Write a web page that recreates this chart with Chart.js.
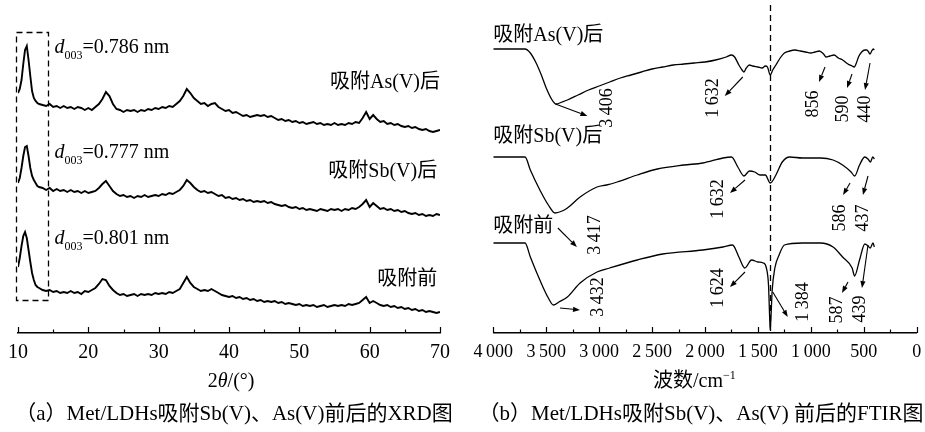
<!DOCTYPE html>
<html>
<head>
<meta charset="utf-8">
<script src="https://cdn.jsdelivr.net/npm/chart.js@4.4.1/dist/chart.umd.min.js"></script>
<style>
  html, body { margin: 0; padding: 0; background: #fff; }
  #wrap { position: relative; width: 925px; height: 432px; overflow: hidden; }
  #xrdBox { position: absolute; left: 0; top: 0; width: 462px; height: 432px; }
  #ftirBox { position: absolute; left: 470px; top: 0; width: 455px; height: 432px; }
  .cap { position: absolute; top: 396px; line-height: 24px; white-space: nowrap;
         font: 21px "Liberation Serif", "Noto Sans CJK SC", serif; color: #000;
         transform: translateX(-50%); }
</style>
</head>
<body>
<div id="wrap">
  <div id="xrdBox"><canvas id="xrd" width="462" height="432"></canvas></div>
  <div id="ftirBox"><canvas id="ftir" width="455" height="432"></canvas></div>
  <div class="cap" style="left:234px">（a）Met/LDHs吸附Sb(V)、As(V)前后的XRD图</div>
  <div class="cap" style="left:701px">（b）Met/LDHs吸附Sb(V)、As(V) 前后的FTIR图</div>
</div>
<script>
// ---------- XRD patterns (2θ in degrees, stacked intensity in a.u.) ----------
const xrdAngle = [10,10.25,10.5,10.75,11,11.25,11.5,11.75,12,12.25,12.5,12.75,13,
  13.5,14,14.5,15,15.5,16,16.5,17,17.5,18,18.5,19,19.5,20,20.5,21,
  21.5,22,22.5,23,23.5,24,24.5,25,25.5,26,26.5,27,27.5,28,28.5,29,29.5,30,
  30.5,31,31.5,32,32.5,33,33.5,34,34.5,35,35.5,36,36.5,37,37.5,38,38.5,39,39.5,40,
  40.5,41,41.5,42,42.5,43,43.5,44,44.5,45,45.5,46,46.5,47,47.5,48,48.5,49,49.5,50,
  50.5,51,51.5,52,52.5,53,53.5,54,54.5,55,55.5,56,56.5,57,57.5,58,58.5,59,59.5,60,
  60.5,61,61.5,62,62.5,63,63.5,64,64.5,65,65.5,66,66.5,67,67.5,68,68.5,69,69.5,70];

const xrdAsV = [240,244,253,269,283,287,273,257,242,235,232,230,229,
  228,227,229,226,227,225,227,225,226,224,226,225,223,225,223,226,
  229,234,241,237,229,224,223,221,223,222,223,221,223,222,224,223,225,224,
  226,225,227,226,229,232,237,244,240,235,232,229,230,227,229,230,226,224,222,223,
  220,221,219,217,218,216,217,218,217,218,216,217,215,213,214,212,213,211,212,210,
  211,209,210,211,209,210,208,209,208,210,208,209,208,210,209,211,210,215,221,214,
  218,214,211,212,209,210,208,209,207,206,207,205,206,204,203,204,202,201,202,203];

const xrdSbV = [150,155,165,177,186,187,177,165,157,153,150,147,146,
  145,143,145,142,144,142,143,141,143,141,142,140,142,140,141,142,
  145,149,152,147,142,139,137,138,136,137,135,137,136,138,136,137,138,137,
  139,138,140,139,141,143,147,153,150,146,143,141,142,140,141,139,137,138,135,136,
  134,135,133,134,132,133,131,132,131,132,130,131,129,128,127,128,126,125,126,124,
  125,123,124,123,122,124,123,122,124,123,124,122,124,123,125,124,126,129,133,126,
  130,127,124,125,123,124,122,123,121,122,120,119,120,118,119,117,118,117,119,118];

const xrdPristine = [66,75,87,97,101,95,83,71,60,53,48,46,45,
  43,42,43,41,42,40,41,40,42,40,41,39,42,41,43,45,
  49,54,53,47,43,40,38,39,37,38,39,37,39,38,39,38,40,39,
  40,39,41,40,42,44,50,56,50,46,44,42,43,42,44,42,40,38,37,36,
  37,35,36,34,35,33,34,32,33,31,32,31,32,30,31,29,30,29,28,29,
  27,28,27,28,26,27,28,26,27,28,27,28,27,29,28,29,30,33,36,30,
  32,30,28,27,28,26,27,25,26,24,25,23,24,22,23,21,22,21,20,21];

const xrdNames = ['吸附As(V)后', '吸附Sb(V)后', '吸附前'];
const xrdD003 = ['0.786', '0.777', '0.801'];
const xrdTicks = [10, 20, 30, 40, 50, 60, 70];

// ---------- FTIR spectra (wavenumber in cm⁻¹, stacked transmittance in a.u.) ----------
const ftirWaveAsV = [4000,3900,3800,3700,3650,3600,3550,3500,3450,3406,3350,3300,3200,3100,3000,2950,2900,2800,2700,2600,
  2500,2400,2300,2200,2100,2000,1900,1800,1750,1720,1680,1650,1632,1610,1580,1550,1500,1460,1430,1410,
  1384,1360,1330,1290,1250,1200,1150,1100,1050,1000,960,920,880,856,820,780,740,700,650,610,
  590,570,550,520,490,470,455,440,425,410,400];
const ftirAsV = [284,284,284,284,280,271,259,245,234,229,231,233,238,243,247,249,251,255,258,261,
  264,266,268,269,270,271,273,276,278,276,268,263,261,265,268,267,266,265,267,266,
  258,263,268,275,280,282,283,282,281,280,281,282,279,276,277,278,275,273,269,267,
  266,270,276,281,283,283,281,279,282,284,283];

const ftirWaveSbV = [4000,3800,3700,3650,3560,3480,3417,3350,3300,3180,3020,2930,2830,2640,2450,2200,2020,1830,1750,1690,
  1632,1580,1530,1480,1430,1384,1330,1270,1200,1080,910,790,700,620,586,540,490,460,437,415,400];
const ftirSbV = [176,176,176,163,143,128,120,122,125,136,146,148,151,158,164,168,170,175,176,166,
  157,162,161,158,158,150,158,171,176,175,175,173,168,161,157,168,176,174,171,176,174];

const ftirWavePristine = [4000,3800,3700,3650,3560,3480,3432,3380,3300,3180,3020,2900,2640,2400,2020,1830,1740,1680,1624,1560,
  1500,1450,1420,1400,1390,1384,1378,1365,1340,1300,1250,1080,910,790,700,610,587,540,490,460,439,413,400];
const ftirPristine = [90,90,90,76,53,35,28,31,36,50,61,65,73,79,83,86,88,76,65,73,
  71,70,65,48,18,3,13,43,65,78,88,90,90,86,76,65,57,73,89,87,85,90,86];

// band positions marked on each spectrum
const ftirPeaksAsV = [3406, 1632, 856, 590, 440];
const ftirPeaksSbV = [3417, 1632, 586, 437];
const ftirPeaksPristine = [3432, 1624, 1384, 587, 439];
const ftirTicks = [0, 500, 1000, 1500, 2000, 2500, 3000, 3500, 4000];

// ---------- drawing helpers ----------
const SERIF = '"Liberation Serif", "Noto Sans CJK SC", serif';
const fontOf = (size, italic) => (italic ? 'italic ' : '') + size + 'px ' + SERIF;
const fmtWave = n => n >= 1000 ? Math.floor(n / 1000) + '\u2009' + String(n % 1000).padStart(3, '0') : String(n);

function drawParts(ctx, parts, x, y, align, size, rot) {
  const items = parts.map(p => {
    const s = (p.sub || p.sup) ? Math.round(size * 0.6) : size;
    ctx.font = fontOf(s, p.italic);
    return { p, s, w: ctx.measureText(p.t).width };
  });
  const total = items.reduce((a, b) => a + b.w, 0);
  ctx.save();
  ctx.translate(x, y);
  if (rot) ctx.rotate(rot);
  ctx.textBaseline = 'middle';
  ctx.textAlign = 'left';
  let cx = align === 'left' ? 0 : align === 'right' ? -total : -total / 2;
  items.forEach(it => {
    ctx.font = fontOf(it.s, it.p.italic);
    const dy = it.p.sub ? size * 0.38 : it.p.sup ? -size * 0.3 : 0;
    ctx.fillText(it.p.t, cx, dy);
    cx += it.w;
  });
  ctx.restore();
}

function drawArrow(ctx, x0, y0, x1, y1) {
  const a = Math.atan2(y1 - y0, x1 - x0), L = 7, W = 2.6;
  const bx = x1 - L * Math.cos(a), by = y1 - L * Math.sin(a);
  ctx.beginPath(); ctx.moveTo(x0, y0); ctx.lineTo(bx, by); ctx.stroke();
  ctx.beginPath();
  ctx.moveTo(x1, y1);
  ctx.lineTo(bx + W * Math.sin(a), by - W * Math.cos(a));
  ctx.lineTo(bx - W * Math.sin(a), by + W * Math.cos(a));
  ctx.closePath(); ctx.fill();
}

// inward tick marks, dashed guides, arrows and labels, all placed in data units
const notesPlugin = {
  id: 'notes',
  afterDatasetsDraw(chart, args, o) {
    const { ctx, chartArea } = chart;
    const sx = chart.scales.x, sy = chart.scales.y;
    const X = v => sx.getPixelForValue(v), Y = v => sy.getPixelForValue(v);
    ctx.save();
    ctx.fillStyle = '#000';
    ctx.strokeStyle = '#000';

    // tick marks pointing up into the plot
    ctx.lineWidth = 1.2;
    const t = o.ticks;
    for (let v = t.min; v <= t.max + 1e-9; v += t.minor) {
      const major = Math.abs(v / t.major - Math.round(v / t.major)) < 1e-6;
      const px = Math.round(X(v)) + 0.5;
      ctx.beginPath();
      ctx.moveTo(px, chartArea.bottom);
      ctx.lineTo(px, chartArea.bottom - (major ? 6 : 3.5));
      ctx.stroke();
    }

    // dashed guides
    (o.dashed || []).forEach(d => {
      ctx.save();
      ctx.setLineDash([6, 4]);
      ctx.lineWidth = 1.3;
      ctx.beginPath();
      if (d.rect) {
        const l = Math.round(X(d.x0)) + 0.5, r = Math.round(X(d.x1)) + 0.5;
        const tp = Math.round(Y(d.y1)) + 0.5, bt = Math.round(Y(d.y0)) + 0.5;
        ctx.rect(l, tp, r - l, bt - tp);
      } else {
        const px = Math.round(X(d.x)) + 0.5;
        ctx.moveTo(px, Y(d.y1));
        ctx.lineTo(px, Y(d.y0));
      }
      ctx.stroke();
      ctx.restore();
    });

    // arrows
    ctx.lineWidth = 1.1;
    (o.arrows || []).forEach(a => drawArrow(ctx, X(a[0]), Y(a[1]), X(a[2]), Y(a[3])));

    // labels
    (o.texts || []).forEach(tx => {
      const parts = tx.parts || [{ t: tx.text }];
      drawParts(ctx, parts, X(tx.x), Y(tx.y), tx.align || 'center', tx.size || 20, tx.rot || 0);
    });

    // axis title
    if (o.title) drawParts(ctx, o.title.parts, X(o.title.x), Y(o.title.y), 'center', 20, 0);
    ctx.restore();
  }
};

function makeChart(id, datasets, axis, notes, padding) {
  return new Chart(document.getElementById(id), {
    type: 'line',
    data: { datasets },
    options: {
      responsive: false,
      animation: false,
      devicePixelRatio: 1,
      layout: { padding },
      elements: { point: { radius: 0, hoverRadius: 0 } },
      plugins: { legend: { display: false }, tooltip: { enabled: false }, notes },
      scales: {
        x: {
          type: 'linear',
          min: axis.min, max: axis.max, reverse: !!axis.reverse,
          afterFit: s => { s.height = 99; },
          afterBuildTicks: s => { s.ticks = axis.ticks.map(v => ({ value: v })); },
          grid: { display: false, drawTicks: false },
          border: { display: true, color: '#000', width: 1.4 },
          ticks: {
            color: '#000', padding: 8, autoSkip: false, maxRotation: 0,
            font: { family: SERIF, size: axis.fontSize },
            callback: axis.format
          }
        },
        y: { display: false, min: 0, max: 333 }
      }
    },
    plugins: [notesPlugin]
  });
}

const pairs = (xs, ys) => xs.map((x, i) => ({ x, y: ys[i] }));
const d003Label = d => [{ t: 'd', italic: true }, { t: '003', sub: true }, { t: '=' + d + ' nm' }];

// ---------- (a) XRD ----------
makeChart('xrd',
  [xrdAsV, xrdSbV, xrdPristine].map((ys, i) => ({
    label: xrdNames[i], data: pairs(xrdAngle, ys),
    borderColor: '#000', borderWidth: 1.9, tension: 0, fill: false
  })),
  { min: 10, max: 70, ticks: xrdTicks, fontSize: 20, format: v => String(v) },
  {
    ticks: { min: 10, max: 70, major: 10, minor: 5 },
    dashed: [{ rect: true, x0: 9.72, x1: 14.24, y0: 33, y1: 301 }],
    texts: [
      { parts: d003Label(xrdD003[0]), x: 15.2, y: 285, align: 'left' },
      { parts: d003Label(xrdD003[1]), x: 15.2, y: 180, align: 'left' },
      { parts: d003Label(xrdD003[2]), x: 15.2, y: 94, align: 'left' },
      { text: xrdNames[0], x: 70, y: 250, align: 'right' },
      { text: xrdNames[1], x: 69.6, y: 161, align: 'right' },
      { text: xrdNames[2], x: 69.6, y: 53, align: 'right' }
    ],
    title: { parts: [{ t: '2' }, { t: 'θ', italic: true }, { t: '/(°)' }], x: 40.3, y: -49 }
  },
  { left: 16, right: 22, top: 0, bottom: 0 }
);

// ---------- (b) FTIR ----------
const peakLabel = (wn, pos) => ({ text: fmtWave(wn), x: pos[0], y: pos[1], rot: -Math.PI / 2, size: 18 });
const posAsV = [[2927, 225], [1924, 235], [980, 229], [696, 224], [489, 224]];
const posSbV = [[3039, 98], [1877, 134], [725, 115], [508, 115]];
const posPristine = [[3010, 36], [1877, 45], [1074, 31], [754, 23], [536, 24]];

makeChart('ftir',
  [[ftirWaveAsV, ftirAsV], [ftirWaveSbV, ftirSbV], [ftirWavePristine, ftirPristine]].map((s, i) => ({
    label: xrdNames[i], data: pairs(s[0], s[1]),
    borderColor: '#000', borderWidth: 1.3, cubicInterpolationMode: 'monotone', fill: false
  })),
  { min: 0, max: 4000, reverse: true, ticks: ftirTicks, fontSize: 18, format: v => fmtWave(v) },
  {
    ticks: { min: 0, max: 4000, major: 500, minor: 250 },
    dashed: [{ x: 1384, y0: 0, y1: 328 }],
    arrows: [
      [3413, 229, 3111, 217], [1643, 256, 1813, 237], [866, 266, 923, 251], [611, 259, 658, 245], [441, 270, 488, 243],
      [3390, 105, 3210, 86], [1622, 153, 1764, 140], [630, 150, 696, 138], [460, 157, 508, 138],
      [3370, 25, 3181, 23], [1622, 61, 1764, 46], [1360, 41, 1218, 16], [649, 51, 706, 40], [460, 88, 517, 45]
    ],
    texts: [
      { text: xrdNames[0], x: 4000, y: 297, align: 'left' },
      { text: xrdNames[1], x: 4000, y: 196, align: 'left' },
      { text: xrdNames[2], x: 4000, y: 106, align: 'left' },
      ...ftirPeaksAsV.map((w, i) => peakLabel(w, posAsV[i])),
      ...ftirPeaksSbV.map((w, i) => peakLabel(w, posSbV[i])),
      ...ftirPeaksPristine.map((w, i) => peakLabel(w, posPristine[i]))
    ],
    title: { parts: [{ t: '波数/cm' }, { t: '−1', sup: true }], x: 2100, y: -49 }
  },
  { left: 23.3, right: 8.3, top: 0, bottom: 0 }
);
</script>
</body>
</html>
